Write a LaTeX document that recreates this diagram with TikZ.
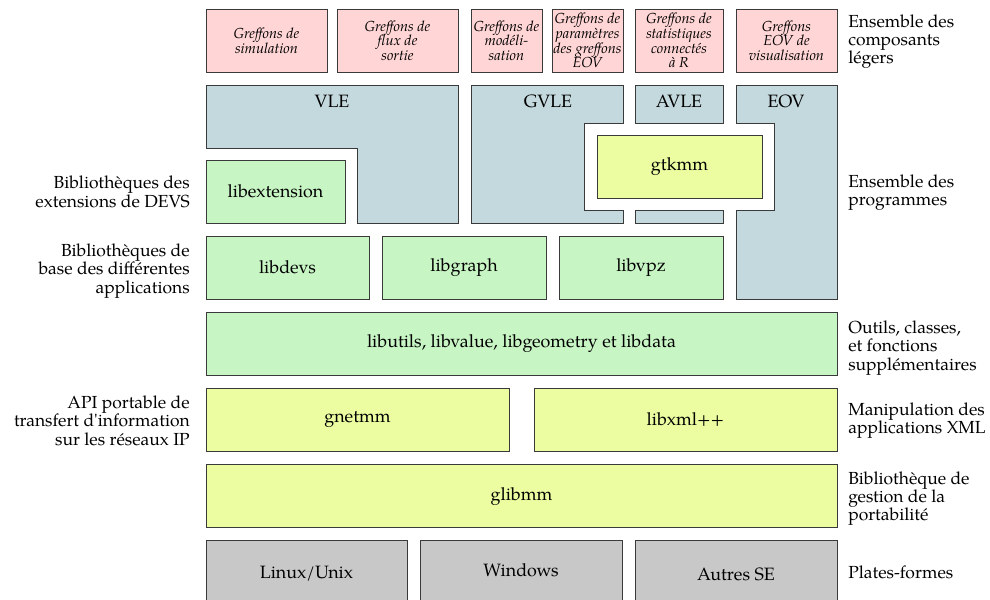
\documentclass[tikz,border=0pt]{standalone}
\usepackage{fontspec}
\setmainfont{TeX Gyre Pagella}
\definecolor{pinkc}{HTML}{FFD5D5}
\definecolor{bluec}{HTML}{C4D9DE}
\definecolor{greenc}{HTML}{C8F5C4}
\definecolor{yellowc}{HTML}{EBFDA0}
\definecolor{grayc}{HTML}{C8C8C8}
\definecolor{linec}{HTML}{3A3A3A}
\tikzset{
  base/.style={draw=linec, line width=0.75pt, inner sep=0pt, outer sep=0pt, align=center, font=\fontsize{13.4}{15.5}\selectfont},
  pinkbox/.style={base, fill=pinkc, font=\fontsize{10.9}{11}\selectfont\itshape},
  bluebox/.style={base, fill=bluec},
  greenbox/.style={base, fill=greenc},
  yellowbox/.style={base, fill=yellowc},
  graybox/.style={base, fill=grayc},
  shapefill/.style={draw=linec, line width=0.75pt, fill=bluec},
  rlab/.style={anchor=west, align=left, inner sep=0pt, font=\fontsize{13.1}{13.6}\selectfont},
  llab/.style={anchor=east, align=right, inner sep=0pt, font=\fontsize{13.1}{13.8}\selectfont},
  tlab/.style={inner sep=0pt, font=\fontsize{13.4}{15.5}\selectfont}
}
\newcommand\bx[7]{\node[#2, minimum width={(#5-#3)*0.75pt}, minimum height={(#6-#4)*0.75pt}, anchor=north west] (#1) at (#3,#4) {#7};}
\newcommand\shiftv[2]{\raisebox{#1}[\height][\depth]{#2}}
\begin{document}
\begin{tikzpicture}[x=0.75pt,y=-0.75pt]
\useasboundingbox (0,0) rectangle (990,600);
\clip (0,0) rectangle (990,600);
% light components
\bx{g1}{pinkbox}{206}{9}{327}{72}{Greffons de\\simulation}
\bx{g2}{pinkbox}{337}{9}{458}{72}{Greffons de\\flux de\\sortie}
\bx{g3}{pinkbox}{471}{9}{542}{72}{Greffons de\\modéli-\\sation}
\bx{g4}{pinkbox}{552}{9}{623}{72}{Greffons de\\paramètres\\des greffons\\EOV}
\bx{g5}{pinkbox}{635}{9}{723}{72}{Greffons de\\statistiques\\connectés\\à R}
\bx{g6}{pinkbox}{736}{9}{837}{72}{Greffons\\EOV de\\visualisation}
% programs
\path[shapefill] (206,85) -- (458,85) -- (458,223) -- (357,223) -- (357,148) -- (206,148) -- cycle;
\node[tlab] (vle) at (332,101) {VLE};
\path[shapefill] (471,85) -- (623,85) -- (623,123) -- (584,123) -- (584,210) -- (623,210) -- (623,223) -- (471,223) -- cycle;
\node[tlab] (gvle) at (548,101) {GVLE};
\path[shapefill] (635,85) rectangle (723,123);
\path[shapefill] (635,210) rectangle (723,223);
\node[tlab] (avle) at (679,101) {AVLE};
\path[shapefill] (736,85) -- (837,85) -- (837,299) -- (736,299) -- (736,210) -- (774,210) -- (774,123) -- (736,123) -- cycle;
\node[tlab] (eov) at (786,101) {EOV};
\bx{gtkmm}{yellowbox}{597}{135}{762}{198}{gtkmm}
\bx{libext}{greenbox}{206}{160}{345}{223}{libextension}
% libraries
\bx{libdevs}{greenbox}{206}{236}{369}{299}{libdevs}
\bx{libgraph}{greenbox}{382}{236}{546}{299}{libgraph}
\bx{libvpz}{greenbox}{559}{236}{723}{299}{libvpz}
\bx{libutils}{greenbox}{206}{312}{837}{375}{libutils, libvalue, libgeometry et libdata}
\bx{gnetmm}{yellowbox}{206}{388}{509}{451}{gnetmm}
\bx{libxml}{yellowbox}{534}{388}{837}{451}{libxml++}
\bx{glibmm}{yellowbox}{206}{464}{837}{527}{\shiftv{-1pt}{glibmm}}
\bx{linux}{graybox}{206}{540}{407}{604}{\shiftv{-1.5pt}{Linux/Unix}}
\bx{windows}{graybox}{420}{540}{622}{604}{\shiftv{1.5pt}{Windows}}
\bx{autres}{graybox}{635}{540}{837}{604}{\shiftv{-1.5pt}{Autres SE}}
% right labels
\node[rlab] (r1) at (848,41.5) {Ensemble des\\composants\\légers};
\node[rlab] (r2) at (848,193) {Ensemble des\\programmes};
\node[rlab] (r3) at (848,348) {Outils, classes,\\et fonctions\\supplémentaires};
\node[rlab] (r4) at (848,421) {Manipulation des\\applications XML};
\node[rlab] (r5) at (848,498.5) {Bibliothèque de\\gestion de la\\portabilité};
\node[rlab] (r6) at (848,572) {Plates-formes};
% left labels
\node[llab] (l1) at (190,192) {Bibliothèques des\\extensions de DEVS};
\node[llab] (l2) at (190,271) {Bibliothèques de\\base des différentes\\applications};
\node[llab] (l3) at (190,420.5) {API portable de\\transfert d\textquotesingle information\\sur les réseaux IP};
\end{tikzpicture}
\end{document}
